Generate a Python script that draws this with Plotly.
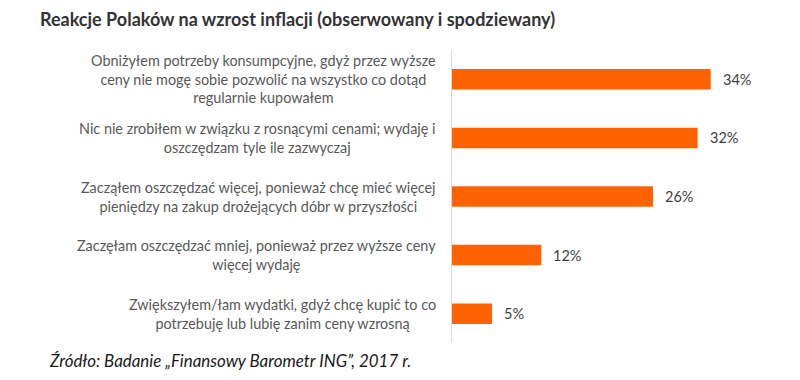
import plotly.graph_objects as go

categories = [
    "Obniżyłem potrzeby konsumpcyjne, gdyż przez wyższe<br>ceny nie mogę sobie pozwolić na wszystko co dotąd<br>regularnie kupowałem",
    "Nic nie zrobiłem w związku z rosnącymi cenami; wydaję i<br>oszczędzam tyle ile zazwyczaj",
    "Zacząłem oszczędzać więcej, ponieważ chcę mieć więcej<br>pieniędzy na zakup drożejących dóbr w przyszłości",
    "Zaczęłam oszczędzać mniej, ponieważ przez wyższe ceny<br>więcej wydaję",
    "Zwiększyłem/łam wydatki, gdyż chcę kupić to co<br>potrzebuję lub lubię zanim ceny wzrosną",
]
values = [33.6, 31.9, 26.1, 11.6, 5.2]
value_labels = ["34%", "32%", "26%", "12%", "5%"]
title_text = "Reakcje Polaków na wzrost inflacji (obserwowany i spodziewany)"
source_text = "Źródło: Badanie „Finansowy Barometr ING”, 2017 r."

ids = list(range(len(categories)))

# page body has an 8px margin, so the figure is 792x372 placed at (8, 8)
W, H = 792, 372
ML, MR, MT, MB = 444, 40, 42, 37
PW, PH = W - ML - MR, H - MT - MB

fig = go.Figure()
fig.add_trace(go.Bar(
    x=values, y=ids, orientation="h",
    marker=dict(color="#FF6200", line=dict(width=0)),
    hoverinfo="skip",
))

annotations = []
for i, (cat, v, lab) in enumerate(zip(categories, values, value_labels)):
    annotations.append(dict(
        x=0, y=i, xref="x", yref="y", text=cat, showarrow=False,
        xanchor="right", yanchor="middle", align="center", xshift=-14,
        font=dict(family="Lato", size=14.4, color="#595959"),
    ))
    annotations.append(dict(
        x=v, y=i, xref="x", yref="y", text=lab, showarrow=False,
        xanchor="left", yanchor="middle", xshift=10,
        font=dict(family="Lato", size=14.5, color="#404040"),
    ))

annotations.append(dict(
    x=(39 - ML) / PW, y=(PH + MT - 352) / PH, xref="paper", yref="paper",
    xanchor="left", yanchor="middle", showarrow=False,
    text="<i>" + source_text + "</i>",
    font=dict(family="Lato", size=16.9, color="#1A1A1A"),
))

fig.update_layout(
    width=W, height=H,
    margin=dict(l=ML, r=MR, t=MT, b=MB, pad=0),
    paper_bgcolor="white", plot_bgcolor="white",
    showlegend=False,
    bargap=0.65,
    title=dict(
        text="<b>" + title_text + "</b>",
        x=32 / W, xanchor="left", y=1 - 12 / H, yanchor="middle",
        font=dict(family="Lato", size=18, color="#333333"),
    ),
    xaxis=dict(range=[0, 40], visible=False, fixedrange=True),
    yaxis=dict(
        range=[len(categories) - 0.5, -0.5],
        showticklabels=False, showgrid=False, zeroline=False,
        showline=True, linecolor="#D9D9D9", linewidth=1,
        ticks="", fixedrange=True,
    ),
    annotations=annotations,
)

fig.write_html("out.html", config={"displayModeBar": False})
